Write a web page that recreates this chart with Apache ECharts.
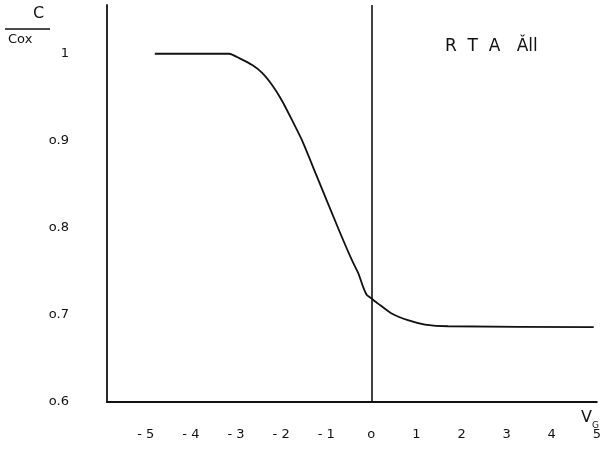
<!DOCTYPE html>
<html>
<head>
<meta charset="utf-8">
<script src="https://cdn.jsdelivr.net/npm/echarts@6/dist/echarts.min.js"></script>
<style>html,body{margin:0;padding:0;background:#fff}#c{width:604px;height:460px}</style>
</head>
<body>
<div id="c"></div>
<script>
const vg = [-4.8, -3.15, -2.93, -2.64, -2.42, -2.2, -1.98, -1.76, -1.54, -1.23, -0.73, -0.44, -0.29, -0.18, -0.1, 0, 0.15, 0.44, 0.81, 1.19, 1.7, 4.93];
const cRatio = [1.0, 1.0, 0.995, 0.987, 0.978, 0.964, 0.946, 0.924, 0.901, 0.862, 0.799, 0.764, 0.748, 0.732, 0.723, 0.719, 0.713, 0.702, 0.694, 0.689, 0.687, 0.686];
const xTicks = [-5, -4, -3, -2, -1, 0, 1, 2, 3, 4, 5];
const yTicks = [0.6, 0.7, 0.8, 0.9, 1];

const font = 'DejaVu Sans';
const chart = echarts.init(document.getElementById('c'), null, {renderer: 'canvas'});
chart.setOption({
  animation: false,
  backgroundColor: '#fff',
  grid: {left: 107, right: 4, top: 5, bottom: 58, containLabel: false},
  xAxis: {
    type: 'value', min: -5.86, max: 5,
    axisLine: {show: true, onZero: false, lineStyle: {color: '#111', width: 1.8}},
    axisTick: {show: false},
    splitLine: {show: false},
    axisLabel: {
      customValues: xTicks, margin: 26, color: '#111', fontFamily: font, fontSize: 13,
      showMaxLabel: true, showMinLabel: true,
      formatter: v => (v < 0 ? '- ' + Math.abs(v) : (v === 0 ? 'o' : String(v)))
    }
  },
  yAxis: {
    type: 'value', min: 0.6, max: 1.056,
    axisLine: {show: true, onZero: false, lineStyle: {color: '#111', width: 1.8}},
    axisTick: {show: false},
    splitLine: {show: false},
    axisLabel: {
      customValues: yTicks, margin: 38, color: '#111', fontFamily: font, fontSize: 13,
      formatter: v => (v === 1 ? '1' : 'o.' + Math.round(v * 10))
    }
  },
  series: [{
    type: 'line',
    data: vg.map((x, i) => [x, cRatio[i]]),
    smooth: 0.2,
    showSymbol: false,
    lineStyle: {color: '#111', width: 1.8},
    markLine: {
      silent: true, symbol: ['none', 'none'], label: {show: false},
      lineStyle: {color: '#111', width: 1.6, type: 'solid'},
      data: [{xAxis: 0}]
    }
  }],
  graphic: [
    {type: 'text', left: 33, top: 6, style: {text: 'C', font: '16px ' + font, fill: '#111'}},
    {type: 'line', shape: {x1: 5, y1: 29, x2: 50, y2: 29}, style: {stroke: '#111', lineWidth: 1.5}},
    {type: 'text', left: 8, top: 33, style: {text: 'Cox', font: '13px ' + font, fill: '#111'}},
    {type: 'text', left: 445, top: 38, style: {text: 'R  T  A   Ǎll', font: '17px ' + font, fill: '#111'}},
    {type: 'text', left: 581, top: 410, style: {text: 'V', font: '16px ' + font, fill: '#111'}},
    {type: 'text', left: 592, top: 421, style: {text: 'G', font: '9px ' + font, fill: '#111'}}
  ]
});
</script>
</body>
</html>
